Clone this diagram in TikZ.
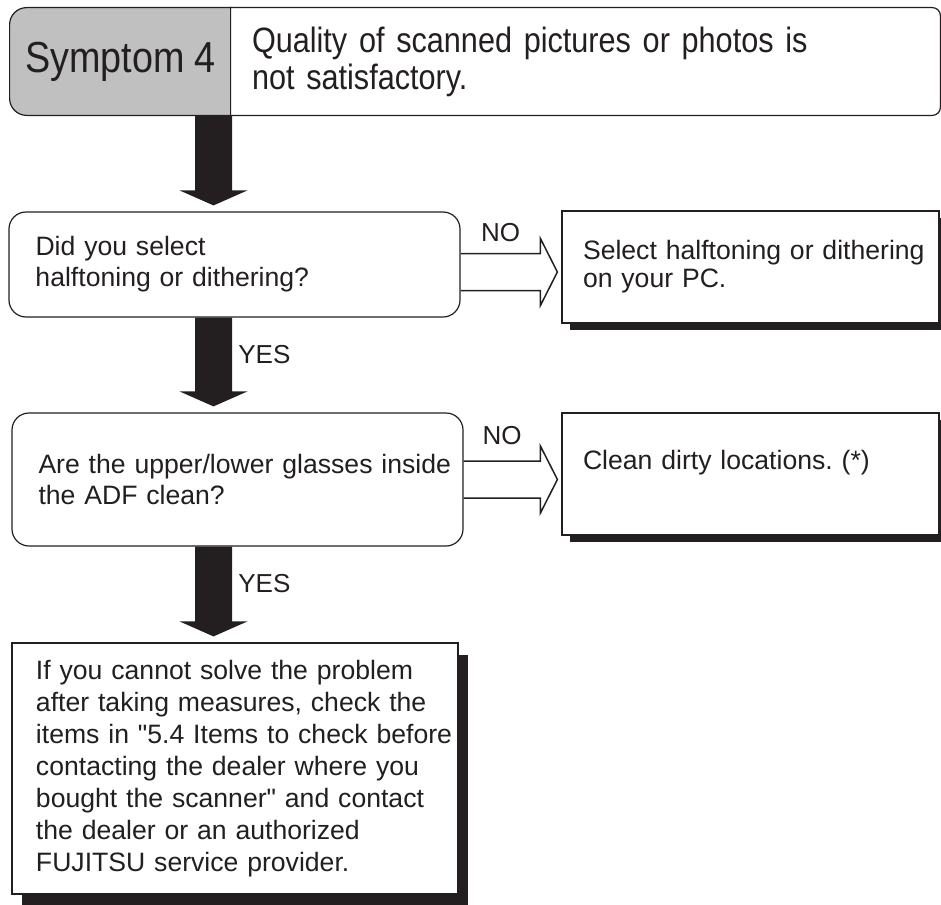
\documentclass[tikz,border=0pt]{standalone}
\usepackage{fontspec}
\setmainfont{Liberation Sans}[Ligatures=TeXOff]
\newfontfamily\hdrfont[FakeStretch=0.87]{Liberation Sans}
\usepackage{tikz}
\usetikzlibrary{calc,shadows,backgrounds}
\definecolor{Ink}{HTML}{231F20}
\definecolor{Tab}{HTML}{C0C0C0}
\tikzset{
  inkline/.style={draw=Ink,line width=0.6pt},
  box/.style={inkline,fill=white,inner sep=0pt,text=Ink,align=left,
    font=\fontsize{13.3}{15.5}\selectfont},
  askbox/.style={box,rounded corners=8.5pt,minimum width=225.5pt,text width=218pt,
    execute at begin node={\leftskip=9.5pt}},
  resbox/.style={box,minimum width=188.5pt,text width=182pt,
    font=\fontsize{13.3}{14}\selectfont,
    execute at begin node={\leftskip=7.25pt},
    general shadow={fill=Ink,shadow xshift=4pt,shadow yshift=-3.5pt}},
  endbox/.style={box,minimum width=223pt,minimum height=125.5pt,text width=217pt,
    font=\fontsize{13.3}{16}\selectfont,
    execute at begin node={\leftskip=9pt},
    general shadow={fill=Ink,shadow xshift=5pt,shadow yshift=-6pt}},
  tabtext/.style={inner sep=0pt,minimum width=110.5pt,minimum height=53.5pt,
    text=Ink,font=\hdrfont\fontsize{21.7}{24}\selectfont},
  hdrtext/.style={inner sep=0pt,minimum width=354.5pt,minimum height=53.5pt,
    text width=348.5pt,align=left,text=Ink,font=\hdrfont\fontsize{17.6}{18.5}\selectfont,
    execute at begin node={\leftskip=7.5pt}},
  bigarrow/.style={fill=Ink,to path={let \p1=(\tikztostart),\p2=(\tikztotarget) in
    (\x1+9.25pt,\y1) -- (\x1+9.25pt,\y2+10.5pt) \tikztonodes -- (\x1+17pt,\y2+10.5pt)
    -- (\x1,\y2+3pt) -- (\x1-17pt,\y2+10.5pt) -- (\x1-9.25pt,\y2+10.5pt)
    -- (\x1-9.25pt,\y1) -- cycle}},
  noarrow/.style={inkline,line width=0.75pt,to path={let \p1=(\tikztostart),\p2=(\tikztotarget) in
    (\x1,\y1+9.25pt) -- (\x2-10.5pt,\y1+9.25pt) \tikztonodes -- (\x2-10.5pt,\y1+16.75pt)
    -- (\x2-2pt,\y1) -- (\x2-10.5pt,\y1-16.75pt) -- (\x2-10.5pt,\y1-9.25pt)
    -- (\x1,\y1-9.25pt)}},
  yeslbl/.style={midway,anchor=west,inner sep=3pt,text=Ink,font=\fontsize{13}{15}\selectfont},
  nolbl/.style={midway,anchor=south,inner sep=3pt,text=Ink,font=\fontsize{13}{15}\selectfont}
}
\begin{document}
\begin{tikzpicture}[x=1pt,y=-1pt]
  \useasboundingbox (0,0) rectangle (470.5,452);
  \coordinate (spine) at (106.75,0);
  \node[tabtext] (sym) at (60.25,30.75) {Symptom 4};
  \node[hdrtext] (hdr) at (292.75,30.75) {Quality of scanned pictures or photos is\\not satisfactory.};
  \begin{scope}[on background layer]
    \filldraw[inkline,fill=Tab] (sym.south east) -- (sym.north east) -- (sym.north)
      [rounded corners=8.5pt] -- (sym.north west) -- (sym.south west) -- (sym.south)
      [sharp corners] -- cycle;
    \filldraw[inkline,fill=white] (hdr.south west) -- (hdr.north west) -- (hdr.north)
      [rounded corners=4pt] -- (hdr.north east) -- (hdr.south east) -- (hdr.south)
      [sharp corners] -- cycle;
  \end{scope}
  \node[askbox,minimum height=52.5pt] (q1) at (117.25,132.25) {Did you select\\halftoning or dithering?};
  \node[askbox,minimum height=66.5pt] (q2) at (118.75,239.75) {Are the upper/lower glasses inside\\the ADF clean?};
  \node[endbox] (fin) at (117.5,384.25) {If you cannot solve the problem\\after taking measures, check the\\items in "5.4 Items to check before\\contacting the dealer where you\\bought the scanner" and contact\\the dealer or an authorized\\FUJITSU service provider.};
  \node[resbox,minimum height=56pt] (r1) at (375.25,133.5) {Select halftoning or dithering\\on your PC.};
  \node[resbox,minimum height=61pt] (r2) at (375.25,237) {Clean dirty locations.\ (*)\\\mbox{}};
  \fill[bigarrow] (sym.south -| spine) to (q1.north -| spine);
  \fill[bigarrow] (q1.south -| spine) to node[yeslbl]{YES} (q2.north -| spine);
  \fill[bigarrow] (q2.south -| spine) to node[yeslbl]{YES} (fin.north -| spine);
  \draw[noarrow] ([yshift=-3.75pt]q1.east) to node[nolbl,yshift=2.5pt]{NO} (r1.west);
  \draw[noarrow] (q2.east) to node[nolbl,yshift=5pt]{NO} (r2.west);
\end{tikzpicture}
\end{document}
